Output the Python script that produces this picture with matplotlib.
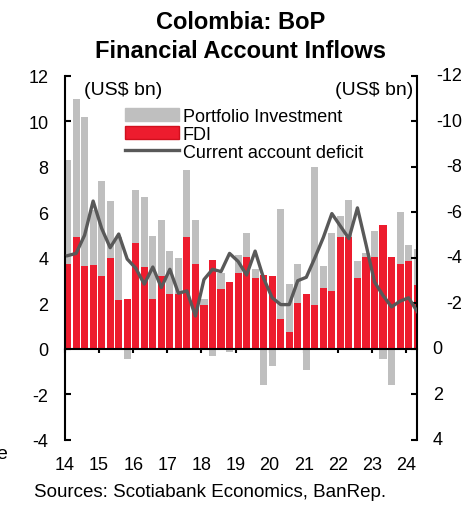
import matplotlib
matplotlib.use("Agg")
import matplotlib.pyplot as plt
import matplotlib.transforms as mtransforms
from matplotlib.lines import Line2D
from matplotlib.patches import Patch
import numpy as np

plt.rcParams["font.family"] = ["Liberation Sans", "DejaVu Sans"]

# quarterly, 2014Q1 .. 2024Q2 (US$ bn)
fdi = [3.75, 4.9, 3.65, 3.7, 3.2, 4.0, 2.15, 2.2, 4.65, 3.6, 2.2, 3.2, 2.4, 2.4,
       4.9, 3.75, 1.95, 3.9, 2.65, 2.95, 3.35, 4.05, 3.1, 3.25, 3.2, 1.3, 0.75, 2.0,
       2.4, 1.95, 2.7, 2.55, 4.9, 4.9, 3.1, 4.05, 4.05, 5.45, 4.05, 3.75, 3.85, 2.8]
portfolio = [4.55, 6.1, 6.55, 2.4, 4.2, 2.5, 2.75, -0.45, 2.35, 3.1, 2.75, 2.45, 1.9, 1.6,
             2.95, 1.9, 0.25, -0.3, 0.7, -0.15, 0.8, 1.05, 0.4, -1.6, -0.75, 4.85, 2.1, 1.75,
             -0.92, 6.05, 0.95, 2.55, 0.95, 1.65, 0.75, 0.15, 1.15, -0.45, -1.6, 2.25, 0.7, 1.6]
# current account balance (right axis, inverted)
ca_balance = [-4.1, -4.2, -5.0, -6.5, -5.3, -4.45, -5.05, -3.95, -3.55, -2.85, -3.6, -2.7,
              -3.5, -2.45, -2.55, -1.45, -3.05, -3.5, -3.4, -4.2, -3.85, -3.25, -4.3, -3.1,
              -2.25, -1.95, -1.95, -3.0, -3.15, -4.0, -4.9, -5.95, -5.4, -4.85, -6.2, -4.6,
              -2.95, -2.35, -1.85, -2.1, -2.25, -1.65]
year_labels = ["14", "15", "16", "17", "18", "19", "20", "21", "22", "23", "24"]

RED = "#ED1C2E"
GRAY = "#BFBFBF"
LINE = "#595959"

fdi = np.array(fdi)
portfolio = np.array(portfolio)
x = np.arange(len(fdi))
pi_bottom = np.where(portfolio > 0, fdi, 0.0)

fig = plt.figure(figsize=(4.74, 5.06), dpi=100)
ax = fig.add_axes([0.1371, 0.1285, 0.742, 0.7195])

ax.bar(x, fdi, width=0.83, color=RED, linewidth=0, zorder=2)
ax.bar(x, portfolio, bottom=pi_bottom, width=0.83, color=GRAY, linewidth=0, zorder=2)

ax.set_xlim(-0.3, 40.95)
ax.set_ylim(-4, 12)
ax.set_yticks(np.arange(-4, 13, 2))
ax.set_yticklabels([str(v) for v in range(-4, 13, 2)])
ax.set_xticks(np.arange(len(year_labels)) * 4 - 0.3)
ax.set_xticklabels(year_labels)

ax.spines["top"].set_visible(False)
ax.spines["right"].set_visible(False)
ax.spines["bottom"].set_position(("data", 0))
for s in ("left", "bottom"):
    ax.spines[s].set_linewidth(1.5)
ax.tick_params(axis="y", direction="in", length=4.5, width=1.5, labelsize=13, pad=12)
ax.tick_params(axis="x", direction="out", length=3, width=1.5, labelsize=13, pad=74)

ax2 = ax.twinx()
ax2.plot(x, ca_balance, color=LINE, linewidth=2.4, zorder=3)
ax2.set_ylim(4, -12)
ax2.set_xlim(-0.3, 40.95)
for s in ("left", "top", "bottom"):
    ax2.spines[s].set_visible(False)
ax2.spines["right"].set_linewidth(1.5)
right_ticks = np.arange(-12, 5, 2)
ax2.set_yticks(right_ticks)
ax2.tick_params(axis="y", direction="in", length=4.5, width=1.5, labelright=False)
trans = mtransforms.blended_transform_factory(ax2.transAxes, ax2.transData)
for v in right_ticks:
    xr = 1.13 if v < 0 else 1.074
    ax2.text(xr, v, str(v), transform=trans, ha="right", va="center", fontsize=13)

ax.text(0.055, 0.962, "(US$ bn)", transform=ax.transAxes, ha="left", va="center", fontsize=14)
ax.text(0.99, 0.962, "(US$ bn)", transform=ax.transAxes, ha="right", va="center", fontsize=14)

handles = [Patch(facecolor=GRAY, edgecolor=GRAY),
           Patch(facecolor=RED, edgecolor="#D0101E"),
           Line2D([0], [0], color=LINE, linewidth=2.4)]
labels = ["Portfolio Investment", "FDI", "Current account deficit"]
ax2.legend(handles, labels, loc="upper left", bbox_to_anchor=(125 / 474, 1 - 109 / 506),
           bbox_transform=fig.transFigure, frameon=False, fontsize=13, borderpad=0,
           handlelength=3.0, handleheight=0.75, handletextpad=0.2, labelspacing=0.05,
           borderaxespad=0)

fig.text(0.507, 0.978, "Colombia: BoP\nFinancial Account Inflows", ha="center", va="top",
         fontsize=17, fontweight="bold", linespacing=1.3)
fig.text(0.072, 0.01, "Sources: Scotiabank Economics, BanRep.", ha="left", va="bottom",
         fontsize=13.5)
fig.text(-0.008, 0.101, "e", ha="left", va="center", fontsize=14)

fig.savefig("out.png", dpi=100)
